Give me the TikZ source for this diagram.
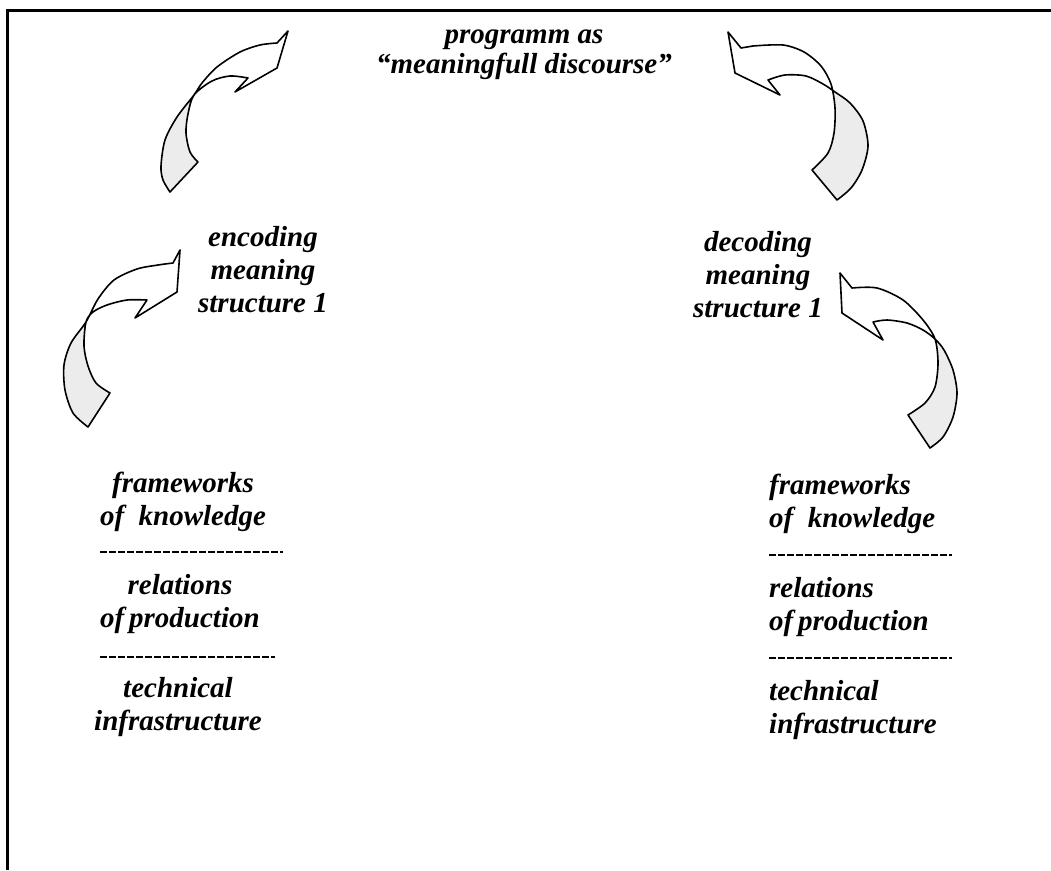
\documentclass[tikz,border=0pt]{standalone}
\usepackage{fontspec}
\setmainfont{Liberation Serif}
\tikzset{
  txt/.style={font=\fontsize{29}{33}\selectfont\bfseries\itshape, inner sep=0pt, align=center},
  bigarrow/.style={draw, line width=1.6pt, line join=round},
  tailfill/.style={fill=gray!15},
  sepline/.style={line width=1.6pt, dash pattern=on 7pt off 2pt}
}
\begin{document}
\begin{tikzpicture}[x=1pt, y=-1pt]
\useasboundingbox ( 0, 0 ) rectangle ( 1051, 870 );

% рамка
            \draw [line width=3pt] ( 7, 870 ) -- ( 7, 10 ) -- ( 1051, 10 );

% стрелка слева сверху
            \fill [tailfill] plot [smooth] coordinates {( 194, 95 ) ( 177, 117 ) ( 165, 140 ) ( 161, 166 ) ( 163, 180 ) ( 170, 192 )}
                -- plot [smooth] coordinates {( 198, 162 ) ( 190, 152 ) ( 186, 133 ) ( 188, 114 ) ( 194, 95 )} -- cycle;
            \draw [bigarrow] ( 288, 31 )
                -- plot [smooth] coordinates {( 277, 43 ) ( 260, 45 ) ( 240, 52 ) ( 217, 67 ) ( 202, 83 ) ( 194, 95 ) ( 177, 117 ) ( 165, 140 ) ( 161, 166 ) ( 163, 180 ) ( 170, 192 )}
                -- plot [smooth] coordinates {( 198, 162 ) ( 190, 152 ) ( 186, 133 ) ( 188, 114 ) ( 194, 95 ) ( 212, 81 ) ( 230, 76 ) ( 248, 78 )}
                -- ( 235, 92 ) -- ( 277, 68 ) -- cycle;

% стрелка справа сверху
            \fill [tailfill] plot [smooth] coordinates {( 833, 90 ) ( 835, 108 ) ( 834, 133 ) ( 828, 153 ) ( 812, 170 )}
                -- plot [smooth] coordinates {( 837, 200 ) ( 851, 188 ) ( 862, 170 ) ( 868, 146 ) ( 863, 121 ) ( 850, 103 ) ( 833, 90 )} -- cycle;
            \draw [bigarrow] ( 728, 32 ) -- ( 741, 48 )
                -- plot [smooth] coordinates {( 753, 46 ) ( 783, 45 ) ( 804, 52 ) ( 821, 66 ) ( 831, 84 ) ( 835, 108 ) ( 834, 133 ) ( 828, 153 ) ( 812, 170 )}
                -- plot [smooth] coordinates {( 837, 200 ) ( 851, 188 ) ( 862, 170 ) ( 868, 146 ) ( 863, 121 ) ( 850, 103 ) ( 835, 92 ) ( 823, 84 ) ( 806, 76 ) ( 785, 75 ) ( 768, 80 )}
                -- ( 780, 95 ) -- ( 735, 73 ) -- cycle;

% стрелка слева
            \fill [tailfill] plot [smooth] coordinates {( 86, 322 ) ( 71, 343 ) ( 64, 365 ) ( 65, 390 ) ( 73, 413 ) ( 88, 427 )}
                -- plot [smooth] coordinates {( 110, 393 ) ( 96, 383 ) ( 88, 366 ) ( 84, 346 ) ( 86, 322 )} -- cycle;
            \draw [bigarrow] ( 180, 250 ) -- ( 173, 263 )
                -- plot [smooth] coordinates {( 173, 263 ) ( 158, 265 ) ( 137, 269 ) ( 114, 280 ) ( 98, 299 ) ( 86, 322 ) ( 71, 343 ) ( 64, 365 ) ( 65, 390 ) ( 73, 413 ) ( 88, 427 )}
                -- plot [smooth] coordinates {( 110, 393 ) ( 96, 383 ) ( 88, 366 ) ( 84, 346 ) ( 86, 322 ) ( 93, 312 ) ( 107, 305 ) ( 127, 300 ) ( 147, 300 )}
                -- ( 135, 318 ) -- ( 177, 292 ) -- cycle;

% стрелка справа
            \fill [tailfill] plot [smooth] coordinates {( 935, 339 ) ( 938, 363 ) ( 935, 387 ) ( 925, 403 ) ( 908, 415 )}
                -- plot [smooth] coordinates {( 930, 448 ) ( 943, 437 ) ( 953, 417 ) ( 957, 393 ) ( 953, 370 ) ( 944, 350 ) ( 935, 339 )} -- cycle;
            \draw [bigarrow] ( 840, 273 ) -- ( 852, 288 )
                -- plot [smooth] coordinates {( 852, 288 ) ( 877, 288 ) ( 903, 300 ) ( 923, 320 ) ( 935, 339 ) ( 938, 363 ) ( 935, 387 ) ( 925, 403 ) ( 908, 415 )}
                -- plot [smooth] coordinates {( 930, 448 ) ( 943, 437 ) ( 953, 417 ) ( 957, 393 ) ( 953, 370 ) ( 944, 350 ) ( 935, 339 ) ( 923, 330 ) ( 907, 323 ) ( 887, 320 ) ( 873, 322 )}
                -- ( 883, 340 ) -- ( 842, 313 ) -- cycle;

% подписи (base = последняя строка)
            \node [txt, anchor=base] (prog) at ( 524, 73 ) {programm as\\[-3pt]“meaningfull discourse”};
            \node [txt, anchor=base] (enc) at ( 263, 312 ) {encoding\\meaning\\structure 1};
            \node [txt, anchor=base] (dec) at ( 758, 317 ) {decoding\\meaning\\structure 1};

% слева внизу
            \node [txt, anchor=base] (lfk) at ( 183, 525 ) {frameworks\\of~ knowledge};
            \draw [sepline] ( 100, 552 ) -- ( 283, 552 );
            \node [txt, anchor=base] (lrp) at ( 180, 627 ) {relations\\of\,production};
            \draw [sepline] ( 100, 657 ) -- ( 275, 657 );
            \node [txt, anchor=base] (lti) at ( 178, 730 ) {technical\\infrastructure};

% справа внизу
            \node [txt, align=left, anchor=base west] (rfk) at ( 769, 527 ) {frameworks\\of~ knowledge};
            \draw [sepline] ( 769, 555 ) -- ( 952, 555 );
            \node [txt, align=left, anchor=base west] (rrp) at ( 769, 630 ) {relations\\of\,production};
            \draw [sepline] ( 769, 658 ) -- ( 952, 658 );
            \node [txt, align=left, anchor=base west] (rti) at ( 769, 733 ) {technical\\infrastructure};
\end{tikzpicture}
\end{document}
